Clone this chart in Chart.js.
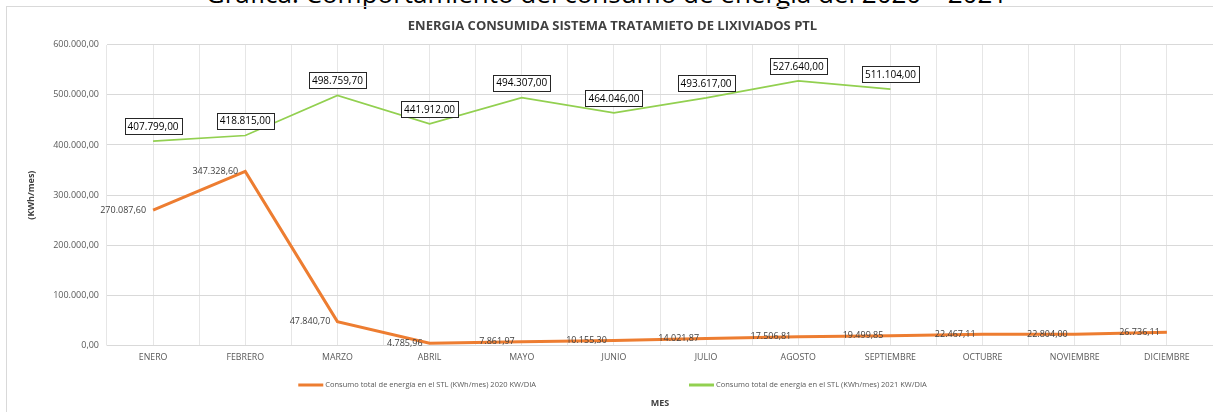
<!DOCTYPE html>
<html>
<head>
<meta charset="utf-8">
<script src="https://cdn.jsdelivr.net/npm/chart.js@4/dist/chart.umd.min.js"></script>
<style>
  html, body { margin: 0; padding: 0; background: #fff; overflow: hidden; }
  #wrap { position: relative; width: 1213px; height: 412px; }
  #heading {
    position: absolute; left: 0; width: 1213px; top: -25px; text-align: center;
    font: 26px "Open Sans", sans-serif; color: #000; white-space: nowrap;
  }
  #frame { position: absolute; left: 6px; top: 6px; width: 1300px; height: 500px; border: 1px solid #d9d9d9; }
  canvas { position: absolute; left: 0; top: 0; }
</style>
</head>
<body>
<div id="wrap">
  <div id="heading">Gráfica: Comportamiento del consumo de energía del 2020 – 2021</div>
  <div id="frame"></div>
  <canvas id="myChart" width="1213" height="412"></canvas>
</div>
<script>
const months = ["ENERO", "FEBRERO", "MARZO", "ABRIL", "MAYO", "JUNIO", "JULIO", "AGOSTO", "SEPTIEMBRE", "OCTUBRE", "NOVIEMBRE", "DICIEMBRE"];
const consumo2020 = [270087.60, 347328.60, 47840.70, 4785.96, 7861.97, 10155.30, 14021.87, 17506.81, 19499.85, 22467.11, 22804.00, 26736.11];
const consumo2021 = [407799.00, 418815.00, 498759.70, 441912.00, 494307.00, 464046.00, 493617.00, 527640.00, 511104.00, null, null, null];
const label2020 = "Consumo total de energía en el STL (KWh/mes) 2020 KW/DIA";
const label2021 = "Consumo total de energía en el STL (KWh/mes) 2021 KW/DIA";

const FONT = '"Open Sans", sans-serif';

// 1234567.8 -> "1.234.567,80"
function fmt(v) {
  const parts = v.toFixed(2).split(".");
  return parts[0].replace(/\B(?=(\d{3})+(?!\d))/g, ".") + "," + parts[1];
}

// value labels, drawn like Excel data labels
const valueLabels = {
  id: "valueLabels",
  afterDatasetsDraw(chart) {
    const ctx = chart.ctx;
    ctx.save();
    chart.data.datasets.forEach((ds, i) => {
      const meta = chart.getDatasetMeta(i);
      meta.data.forEach((pt, j) => {
        const v = ds.data[j];
        if (v === null || v === undefined) return;
        const txt = fmt(v);
        if (i === 0) {
          ctx.font = "9px " + FONT;
          ctx.fillStyle = "#404040";
          ctx.textAlign = "right";
          ctx.textBaseline = "middle";
          ctx.fillText(txt, pt.x - 7, pt.y);
        } else {
          ctx.font = "10px " + FONT;
          const w = Math.round(ctx.measureText(txt).width + 6);
          const h = 16;
          const cx = pt.x, cy = pt.y - 15;
          const bx = Math.round(cx - w / 2), by = Math.round(cy - h / 2);
          ctx.fillStyle = "#fff";
          ctx.fillRect(bx, by, w, h);
          ctx.strokeStyle = "#262626";
          ctx.lineWidth = 1;
          ctx.strokeRect(bx + 0.5, by + 0.5, w, h);
          ctx.fillStyle = "#000";
          ctx.textAlign = "center";
          ctx.textBaseline = "middle";
          ctx.fillText(txt, cx, cy + 1);
        }
      });
    });
    ctx.restore();
  }
};

// legend sitting between the month labels and the axis title
const bottomLegend = {
  id: "bottomLegend",
  afterDraw(chart) {
    const ctx = chart.ctx;
    ctx.save();
    ctx.font = "7.5px " + FONT;
    ctx.textBaseline = "middle";
    ctx.textAlign = "left";
    const lineW = 25, gap = 153, y = 385;
    const items = chart.data.datasets.map(ds => ({
      text: ds.label, color: ds.borderColor, width: lineW + 2 + ctx.measureText(ds.label).width
    }));
    const total = items[0].width + gap + items[1].width;
    let x = chart.width / 2 + 6 - total / 2;
    items.forEach(it => {
      ctx.strokeStyle = it.color;
      ctx.lineWidth = 3;
      ctx.beginPath();
      ctx.moveTo(x, y);
      ctx.lineTo(x + lineW, y);
      ctx.stroke();
      ctx.fillStyle = "#595959";
      ctx.fillText(it.text, x + lineW + 2, y);
      x += it.width + gap;
    });
    ctx.restore();
  }
};

const data = {
  labels: months,
  datasets: [
    {
      label: label2020,
      data: consumo2020,
      borderColor: "#ED7D31",
      backgroundColor: "#ED7D31",
      borderWidth: 3,
      pointRadius: 0,
      tension: 0,
    },
    {
      label: label2021,
      data: consumo2021,
      borderColor: "#92D050",
      backgroundColor: "#92D050",
      borderWidth: 1.75,
      pointRadius: 0,
      tension: 0,
    },
  ],
};

const config = {
  type: "line",
  data,
  plugins: [valueLabels, bottomLegend],
  options: {
    responsive: false,
    animation: false,
    layout: { padding: { left: 12, right: 0, top: 0, bottom: 3 } },
    plugins: {
      legend: { display: false },
      tooltip: { enabled: false },
      title: {
        display: true,
        text: "ENERGIA CONSUMIDA SISTEMA TRATAMIETO DE LIXIVIADOS PTL",
        color: "#404040",
        font: { family: FONT, size: 13, weight: "bold" },
        padding: { top: 18, bottom: 11 },
      },
    },
    scales: {
      x: {
        type: "category",
        offset: true,
        grid: { offset: false, color: "#e6e6e6", drawTicks: false },
        border: { color: "#d9d9d9" },
        ticks: {
          color: "#595959",
          font: { family: FONT, size: 8.8 },
          padding: 7,
          maxRotation: 0,
          autoSkip: false,
        },
        title: {
          display: true,
          text: "MES",
          color: "#404040",
          font: { family: FONT, size: 9, weight: "bold" },
          padding: { top: 28, bottom: 0 },
        },
      },
      x2: {
        type: "category",
        labels: months,
        position: "top",
        offset: true,
        grid: { offset: true, color: "#e6e6e6", drawTicks: false },
        border: { display: false },
        ticks: { display: false },
      },
      y: {
        min: 0,
        max: 600000,
        grid: { color: "#d9d9d9", drawTicks: false },
        border: { display: false },
        ticks: {
          stepSize: 100000,
          color: "#595959",
          font: { family: FONT, size: 9 },
          padding: 8,
          callback: v => fmt(v),
        },
        title: {
          display: true,
          text: "(KWh/mes)",
          color: "#404040",
          font: { family: FONT, size: 9, weight: "bold" },
          padding: { top: 14, bottom: 0 },
        },
        afterFit(scale) { scale.width = 95; },
      },
    },
  },
};

var myChart = new Chart(document.getElementById("myChart"), config);
</script>
</body>
</html>
